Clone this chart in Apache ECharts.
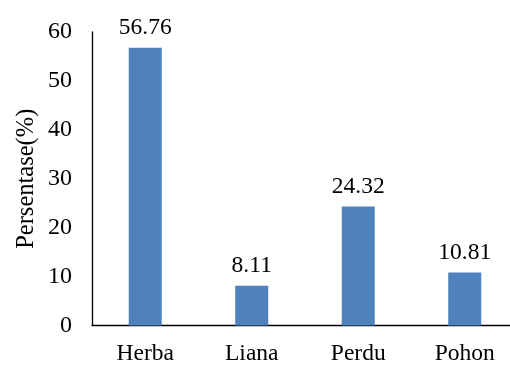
<!DOCTYPE html>
<html>
<head>
<meta charset="utf-8">
<script src="https://cdn.jsdelivr.net/npm/echarts@6/dist/echarts.min.js"></script>
<style>
  html, body { margin: 0; padding: 0; background: #fff; }
  #chart { width: 510px; height: 368px; }
</style>
</head>
<body>
<div id="chart"></div>
<script>
// Growth-form categories and their share of species (%)
const categories = ['Herba', 'Liana', 'Perdu', 'Pohon'];
const percentages = [56.76, 8.11, 24.32, 10.81];
const yTicks = { min: 0, max: 60, interval: 10 };

const fontFamily = '"Liberation Serif", "Times New Roman", serif';
const chart = echarts.init(document.getElementById('chart'), null, { renderer: 'canvas' });

chart.setOption({
  animation: false,
  backgroundColor: '#ffffff',
  // the plot area runs slightly past the right edge of the canvas
  grid: { left: 92, right: -8, top: 32, bottom: 42.5, outerBoundsMode: 'none' },
  xAxis: {
    type: 'category',
    data: categories,
    axisLine: { lineStyle: { color: '#000', width: 1.3 } },
    axisTick: { show: false },
    axisLabel: { color: '#000', fontFamily, fontSize: 23.5, margin: 16 }
  },
  yAxis: {
    type: 'value',
    min: yTicks.min,
    max: yTicks.max,
    interval: yTicks.interval,
    name: 'Persentase(%)',
    nameLocation: 'middle',
    nameGap: 53,
    nameMoveOverlap: false,
    nameTextStyle: { color: '#000', fontFamily, fontSize: 24.5 },
    axisLine: { show: true, lineStyle: { color: '#000', width: 1.3 } },
    axisTick: { show: false },
    splitLine: { show: false },
    axisLabel: { color: '#000', fontFamily, fontSize: 24, margin: 20 }
  },
  series: [{
    type: 'bar',
    data: percentages,
    barWidth: '31%',
    itemStyle: { color: '#4f81bd' },
    label: {
      show: true,
      position: 'top',
      distance: 8,
      color: '#000',
      fontFamily,
      fontSize: 23.5,
      formatter: p => p.value.toFixed(2)
    }
  }]
});
</script>
</body>
</html>
